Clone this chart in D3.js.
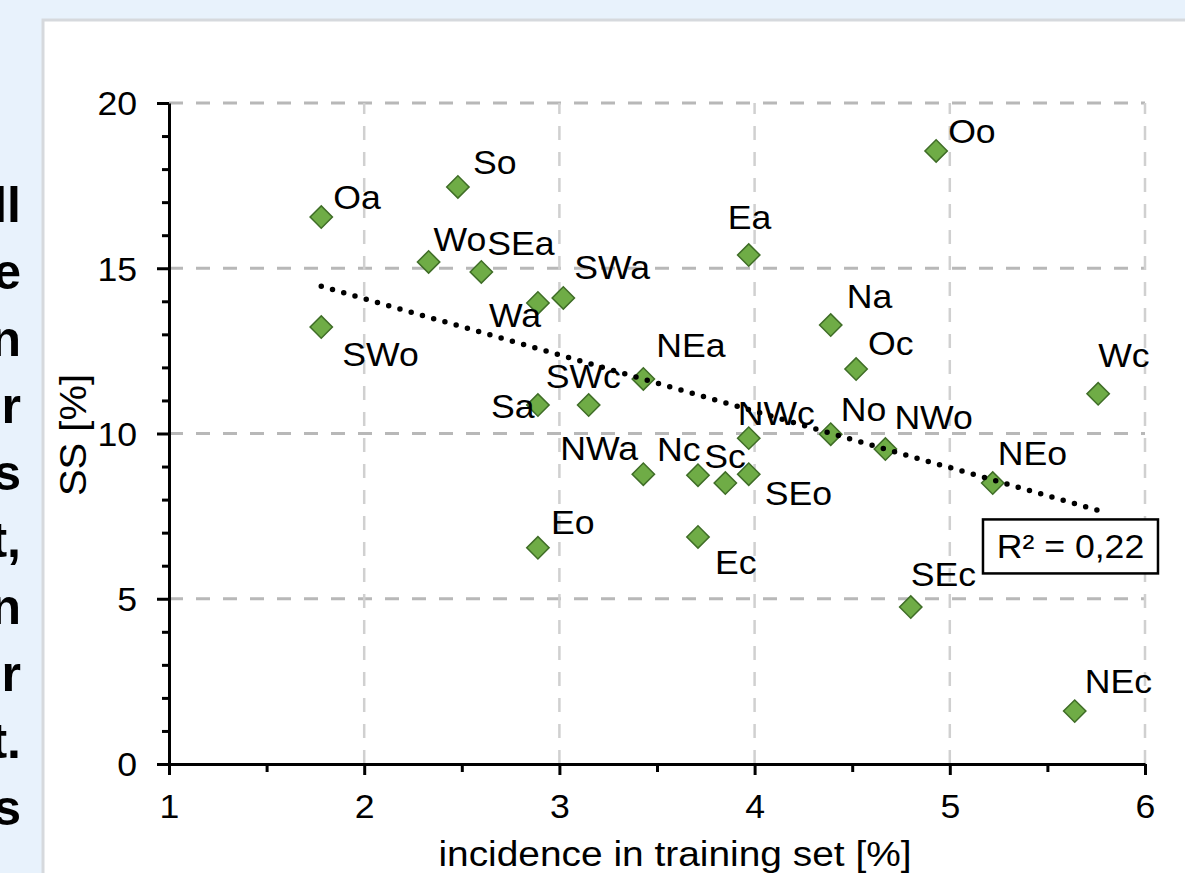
<!DOCTYPE html>
<html lang="en">
<head>
    <meta charset="UTF-8">
    <title>SS vs incidence in training set</title>
    <script src="https://d3js.org/d3.v7.min.js"></script>
    <style>
        body{
            margin: 0;
            background: #e8f2fc;
        }
        svg{
            display: block;
        }
        text{
            font-family: "Liberation Sans", Arial, sans-serif;
            fill: #000;
        }
    </style>
</head>
<body>
<script>

    // data
    const regions = ["Oa","So","Wo","SEa","SWa","Wa","SWo","Sa","Eo","Ea","Oo","Na","Oc","Wc","NEa","SWc","NWc","No","NWo","NEo","NWa","Nc","Sc","SEo","Ec","SEc","NEc"]
    const incidence = [1.78,2.48,2.33,2.60,3.02,2.89,1.78,2.89,2.89,3.97,4.93,4.39,4.52,5.76,3.43,3.15,3.97,4.39,4.67,5.22,3.43,3.71,3.85,3.97,3.71,4.80,5.64]
    const ss = [16.55,17.46,15.19,14.89,14.10,13.95,13.22,10.86,6.54,15.40,18.55,13.28,11.95,11.20,11.65,10.86,9.86,9.98,9.53,8.50,8.77,8.74,8.50,8.77,6.87,4.75,1.60]

    const xTicks = [1,2,3,4,5,6]
    const yTicks = [0,5,10,15,20]
    const xTitle = "incidence in training set [%]"
    const yTitle = "SS [%]"
    const r2Label = "R² = 0,22"
    // line ends of the cut-off paragraph on the left
    const sideText = ["ll","e","n","r","s","t,","n","r","t.","s"]

    // where each label sits relative to its marker: [dx, dy] in px
    const labelOffsets = {
        Oa:[12,-20], So:[15,-25], Wo:[5,-23], SEa:[6,-29], SWa:[11,-31], Wa:[-49,12],
        SWo:[21,27], Sa:[-47,1], Eo:[13,-26], Ea:[-21,-38], Oo:[12,-20], Na:[16,-29],
        Oc:[12,-26], Wc:[0,-39], NEa:[13,-34], SWc:[-43,-29], NWc:[-11,-25], No:[10,-25],
        NWo:[9,-32], NEo:[5,-30], NWa:[-83,-26], Nc:[-41,-26], Sc:[-21,-27], SEo:[16,19],
        Ec:[17,25], SEc:[0,-33], NEc:[10,-30]
    }

    const width = 1185
    const height = 873
    const sx = 1.08   // the source picture is a little wider than tall

    const data = regions.map((name,i)=>({name, x: incidence[i], y: ss[i]}))

    let svg = d3.select("body").append("svg")
                .attr("width", width)
                .attr("height", height)

    // side text, clipped by the panel
    svg.append("g").selectAll("text")
        .data(sideText)
        .enter()
        .append("text")
        .attr("x", 21)
        .attr("y", (d,i)=> 222 + i*67)
        .attr("text-anchor","end")
        .attr("font-weight","bold")
        .attr("font-size", 50)
        .text(d=>d)

    // white panel
    svg.append("rect")
        .attr("x", 43).attr("y", 20)
        .attr("width", 1200).attr("height", 900)
        .attr("fill","#fff")
        .attr("stroke","#d6d9dd")
        .attr("stroke-width", 3)

    const xScale = d3.scaleLinear().domain([1,6]).range([169,1145])
    const yScale = d3.scaleLinear().domain([0,20]).range([764,103])

    let gCanvas = svg.append("g")

    // grid lines
    gCanvas.append("g").selectAll("line")
        .data(yTicks.filter(d=>d>0))
        .enter()
        .append("line")
        .attr("x1", xScale(1)).attr("x2", xScale(6))
        .attr("y1", d=>yScale(d)).attr("y2", d=>yScale(d))
        .attr("stroke","#b8b8b8")
        .attr("stroke-width", 3)
        .attr("stroke-dasharray","14 13")

    gCanvas.append("g").selectAll("line")
        .data(xTicks.filter(d=>d>1))
        .enter()
        .append("line")
        .attr("x1", d=>xScale(d)).attr("x2", d=>xScale(d))
        .attr("y1", yScale(0)).attr("y2", yScale(20))
        .attr("stroke","#d0d0d0")
        .attr("stroke-width", 2.5)
        .attr("stroke-dasharray","14 12")

    // axes
    const minorY = d3.range(0,21).filter(d=>d%5 !== 0)
    const minorX = xTicks.slice(0,-1).map(d=>d+0.5)

    let gyMinor = gCanvas.append("g")
        .attr("transform",`translate(${xScale(1)},0)`)
        .call(d3.axisLeft(yScale).tickValues(minorY).tickSize(7).tickFormat(""))
    gyMinor.select(".domain").remove()

    let gxMinor = gCanvas.append("g")
        .attr("transform",`translate(0,${yScale(0)})`)
        .call(d3.axisBottom(xScale).tickValues(minorX).tickSize(8).tickFormat(""))
    gxMinor.select(".domain").remove()

    let gy = gCanvas.append("g")
        .attr("transform",`translate(${xScale(1)},0)`)
        .call(d3.axisLeft(yScale).tickValues(yTicks).tickSize(12).tickSizeOuter(0).tickFormat(d3.format("d")))
    gy.selectAll("text")
        .attr("x", -32/sx)
        .attr("dy","0.36em")
        .attr("font-size", 33)
        .attr("transform",`scale(${sx},1)`)

    let gx = gCanvas.append("g")
        .attr("transform",`translate(0,${yScale(0)})`)
        .call(d3.axisBottom(xScale).tickValues(xTicks).tickSize(11).tickSizeOuter(0).tickFormat(d3.format("d")))
    gx.selectAll("text")
        .attr("y", 42)
        .attr("dy","0.36em")
        .attr("font-size", 33)
        .attr("transform",`scale(${sx},1)`)

    gCanvas.selectAll(".domain, .tick line")
        .attr("stroke","#000")
        .attr("stroke-width", 3)

    // axis titles
    gCanvas.append("text")
        .attr("transform",`translate(675,853) scale(${sx},1)`)
        .attr("text-anchor","middle")
        .attr("dy","0.36em")
        .attr("font-size", 36)
        .text(xTitle)

    gCanvas.append("text")
        .attr("transform",`translate(73,435) rotate(-90) scale(${sx},1)`)
        .attr("text-anchor","middle")
        .attr("dy","0.36em")
        .attr("font-size", 37)
        .text(yTitle)

    // markers
    gCanvas.append("g").selectAll("path")
        .data(data)
        .enter()
        .append("path")
        .attr("d", d3.symbol(d3.symbolSquare, 250))
        .attr("transform", d=>`translate(${xScale(d.x)},${yScale(d.y)}) rotate(45)`)
        .attr("fill","#6fac46")
        .attr("stroke","#3f6d27")
        .attr("stroke-width", 1.5)

    // labels
    gCanvas.append("g").selectAll("text")
        .data(data)
        .enter()
        .append("text")
        .attr("transform", d=>{
            const o = labelOffsets[d.name]
            return `translate(${xScale(d.x)+o[0]},${yScale(d.y)+o[1]}) scale(${sx},1)`
        })
        .attr("dy","0.36em")
        .attr("font-size", 33)
        .text(d=>d.name)

    // linear trend line (least squares), drawn over the markers
    const mx = d3.mean(incidence)
    const my = d3.mean(ss)
    const sxy = d3.sum(incidence, (v,i)=> (v-mx)*(ss[i]-my))
    const sxx = d3.sum(incidence, v=> (v-mx)*(v-mx))
    const slope = sxy/sxx
    const intercept = my - slope*mx
    const xs = d3.extent(incidence)

    gCanvas.append("line")
        .attr("x1", xScale(xs[0])).attr("y1", yScale(intercept + slope*xs[0]))
        .attr("x2", xScale(xs[1])).attr("y2", yScale(intercept + slope*xs[1]))
        .attr("stroke","#000")
        .attr("stroke-width", 5.5)
        .attr("stroke-linecap","round")
        .attr("stroke-dasharray","0 11.7")

    // R² box
    const bx = xScale(5.17)
    const by = yScale(7.4)
    gCanvas.append("rect")
        .attr("x", bx).attr("y", by)
        .attr("width", 175).attr("height", 54)
        .attr("fill","#fff")
        .attr("stroke","#000")
        .attr("stroke-width", 2.5)
    gCanvas.append("text")
        .attr("transform",`translate(${bx+87.5},${by+27}) scale(${sx},1)`)
        .attr("text-anchor","middle")
        .attr("dy","0.36em")
        .attr("font-size", 33)
        .text(r2Label)

</script>
</body>
</html>
